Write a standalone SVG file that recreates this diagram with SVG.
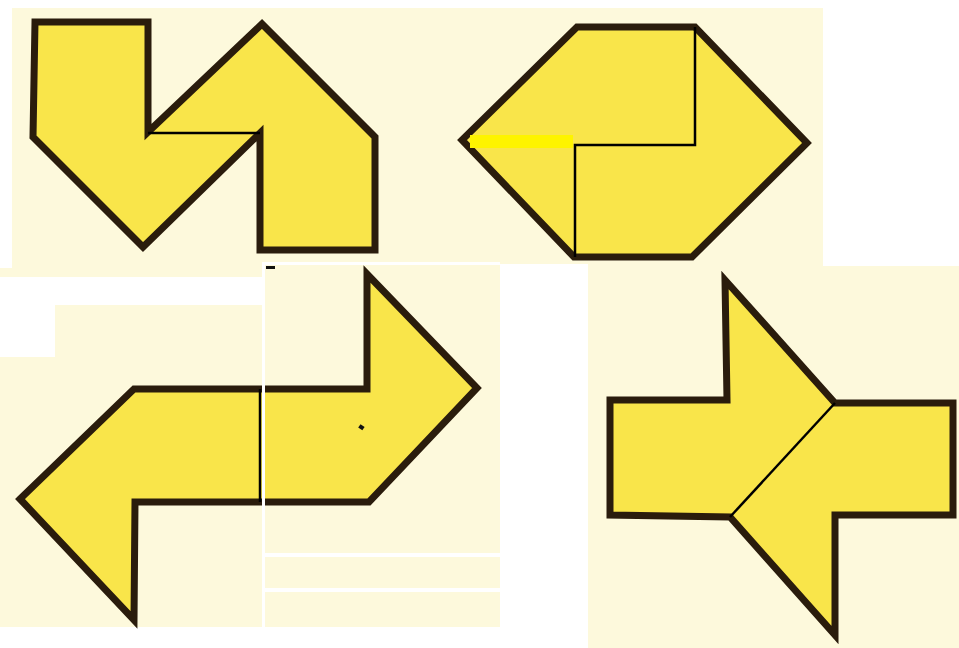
<svg xmlns="http://www.w3.org/2000/svg" width="959" height="648" viewBox="0 0 959 648">
  <style>
    .bg { fill: #fdf9dc; }
    .gap { fill: #ffffff; }
    .piece { fill: #f9e54a; stroke: #2a1c0c; stroke-width: 7; stroke-linejoin: miter; stroke-miterlimit: 10; }
    .cut { fill: none; stroke: #000000; stroke-width: 2.5; }
  </style>
  <g id="background">
    <rect class="bg" x="0" y="0" width="959" height="648"/>
    <rect class="gap" x="0" y="0" width="959" height="8"/>
    <rect class="gap" x="0" y="0" width="12" height="268"/>
    <rect class="gap" x="823" y="0" width="136" height="266"/>
    <rect class="gap" x="500" y="264" width="88" height="384"/>
    <rect class="gap" x="50" y="277" width="212" height="28"/>
    <rect class="gap" x="0" y="277" width="55" height="80"/>
    <rect class="gap" x="0" y="627" width="500" height="21"/>
    <rect class="gap" x="265" y="553" width="235" height="4"/>
    <rect class="gap" x="265" y="588" width="235" height="4"/>
    <rect class="gap" x="265" y="262" width="235" height="3"/>
  </g>
  <g id="shape-top-left">
    <polygon class="piece" points="35,22 148,22 148,132 262,24 375,137 375,250 260,250 260,133 143,247 33,137"/>
    <line class="cut" x1="148" y1="133" x2="260" y2="133"/>
  </g>
  <g id="shape-top-right">
    <polygon class="piece" points="577,27 695,27 807,143 692,257 574,257 462,140"/>
    <rect x="470" y="135" width="103" height="13" fill="#fef400"/>
    <polyline class="cut" points="695,27 695,145 575,145 575,257"/>
  </g>
  <g id="shape-bottom-left">
    <polygon class="piece" points="20,499 134,389 367,389 367,274 477,388 369,502 135,502 134,620"/>
    <line class="cut" x1="260" y1="389" x2="260" y2="502"/>
    <rect class="gap" x="262" y="262" width="3" height="370"/>
    <rect x="266" y="266" width="9" height="3" fill="#111"/>
    <rect x="359" y="425" width="5" height="4" fill="#111" transform="rotate(35 361 427)"/>
  </g>
  <g id="shape-bottom-right">
    <polygon class="piece" points="725,280 835,403 953,403 953,515 835,515 835,635 730,517 610,515 610,400 727,400"/>
    <line class="cut" x1="835" y1="403" x2="730" y2="517"/>
  </g>
</svg>
